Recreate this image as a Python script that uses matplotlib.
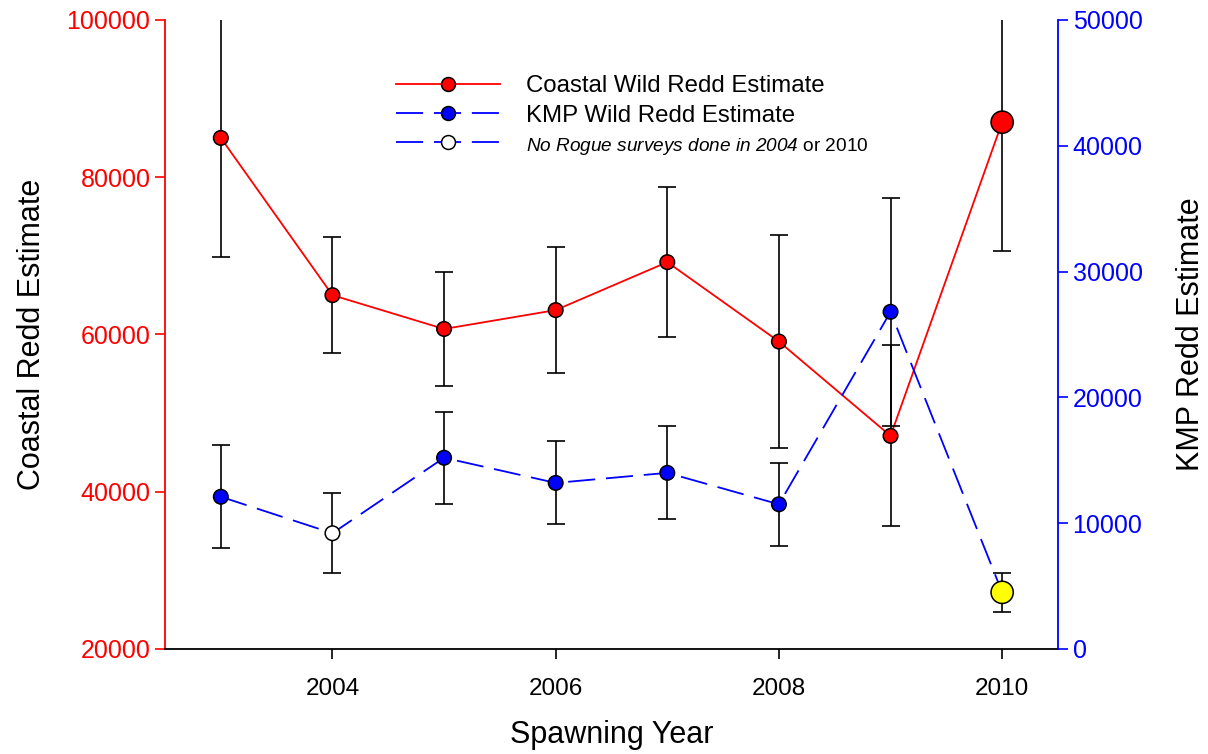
import numpy as np
import matplotlib.pyplot as plt
from matplotlib.lines import Line2D

plt.rcParams['font.family'] = ['Liberation Sans', 'DejaVu Sans']
plt.rcParams['mathtext.fontset'] = 'custom'
plt.rcParams['mathtext.rm'] = 'Liberation Sans:italic'
plt.rcParams['mathtext.it'] = 'Liberation Sans:italic'

# data
years = [2003, 2004, 2005, 2006, 2007, 2008, 2009, 2010]
coastal = [85000, 65000, 60700, 63100, 69200, 59100, 47100, 87000]
coastal_err = [15200, 7400, 7300, 8000, 9500, 13500, 11500, 16400]
kmp = [12100, 9200, 15200, 13200, 14000, 11500, 26800, 4500]
kmp_err = [4100, 3200, 3650, 3300, 3700, 3300, 9050, 1550]

coastal_faces = ['red'] * 7 + ['red']
coastal_sizes = [110] * 7 + [256]
kmp_faces = ['blue', 'white', 'blue', 'blue', 'blue', 'blue', 'blue', 'yellow']
kmp_sizes = [110] * 7 + [256]

fig = plt.figure(figsize=(12.08, 7.54), dpi=100)
ax = fig.add_axes([0.1366, 0.1393, 0.7392, 0.8342])
ax2 = ax.twinx()

# coastal series (left axis)
ax.errorbar(years, coastal, yerr=coastal_err, fmt='none', ecolor='black',
            elinewidth=1.2, capsize=6.5, capthick=1.2, zorder=1)
ax.plot(years, coastal, color='red', lw=1.3, zorder=2)
ax.scatter(years, coastal, s=coastal_sizes, c=coastal_faces, edgecolors='black',
           linewidths=1.1, zorder=3)

# KMP series (right axis)
ax2.errorbar(years, kmp, yerr=kmp_err, fmt='none', ecolor='black',
             elinewidth=1.2, capsize=6.5, capthick=1.2, zorder=1)
ax2.plot(years, kmp, color='blue', lw=1.3, dashes=(15, 6), zorder=2)
ax2.scatter(years, kmp, s=kmp_sizes, c=kmp_faces, edgecolors='black',
            linewidths=1.1, zorder=3)

ax.set_xlim(2002.5, 2010.5)
ax.set_ylim(20000, 100000)
ax2.set_ylim(0, 50000)
ax.set_xticks([2004, 2006, 2008, 2010])
ax.set_yticks(np.arange(20000, 100001, 20000))
ax2.set_yticks(np.arange(0, 50001, 10000))

ax.spines['top'].set_visible(False)
ax2.spines['top'].set_visible(False)
ax.spines['left'].set_color('red')
ax2.spines['left'].set_visible(False)
ax.spines['right'].set_visible(False)
ax2.spines['right'].set_color('blue')
ax2.spines['bottom'].set_visible(False)
for sp in ax.spines.values():
    sp.set_linewidth(1.3)
ax2.spines['right'].set_linewidth(1.3)

ax.tick_params(axis='y', colors='red', labelsize=18, length=7, width=1.2, direction='out')
ax2.tick_params(axis='y', colors='blue', labelsize=18, length=7, width=1.2, direction='out')
ax.tick_params(axis='x', colors='black', labelsize=17.5, length=7, width=1.2, direction='out', pad=14)

ax.set_xlabel('Spawning Year', fontsize=22, labelpad=14)
ax.set_ylabel('Coastal Redd Estimate', fontsize=22, labelpad=14)
ax2.set_ylabel('KMP Redd Estimate', fontsize=22, labelpad=24)

handles = [
    Line2D([], [], color='red', lw=1.3, marker='o', markersize=10,
           markerfacecolor='red', markeredgecolor='black', markeredgewidth=1.1),
    Line2D([], [], color='blue', lw=1.3, dashes=(15, 6), marker='o', markersize=10,
           markerfacecolor='blue', markeredgecolor='black', markeredgewidth=1.1),
    Line2D([], [], color='blue', lw=1.3, dashes=(15, 6), marker='o', markersize=10,
           markerfacecolor='white', markeredgecolor='black', markeredgewidth=1.1),
]
labels = ['Coastal Wild Redd Estimate', 'KMP Wild Redd Estimate',
          r'$\mathrm{No\ Rogue\ surveys\ done\ in\ 2004}$ or 2010']
leg = ax2.legend(handles, labels, loc='upper left', bbox_to_anchor=(0.259, 0.912),
                 frameon=False, fontsize=17.3, handlelength=4.3, handletextpad=1.1,
                 labelspacing=0.3, borderpad=0, borderaxespad=0)
leg.get_texts()[2].set_fontsize(13.7)

fig.savefig('out.png', dpi=100)
